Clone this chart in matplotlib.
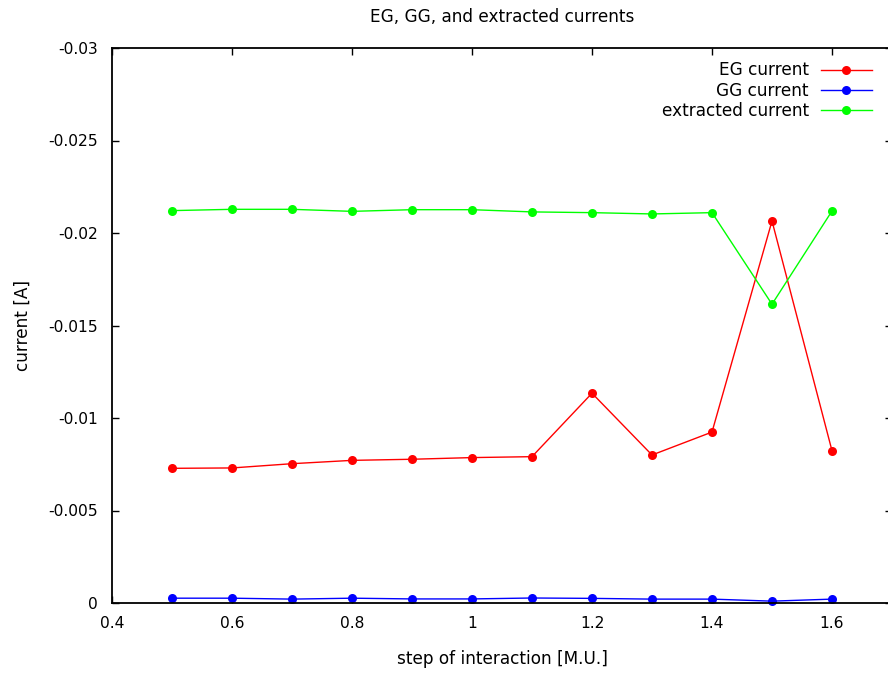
import matplotlib
matplotlib.use("Agg")
import matplotlib.pyplot as plt
from matplotlib import ticker

# step of interaction [M.U.]
steps = [0.5, 0.6, 0.7, 0.8, 0.9, 1.0, 1.1, 1.2, 1.3, 1.4, 1.5, 1.6]

# currents [A]
eg_current = [-0.00728, -0.00730, -0.00753, -0.00771, -0.00777, -0.00786,
              -0.00791, -0.01134, -0.00800, -0.00924, -0.02065, -0.00823]
gg_current = [-0.00026, -0.00026, -0.00021, -0.00026, -0.00022, -0.00022,
              -0.00027, -0.00025, -0.00021, -0.00021, -0.00010, -0.00021]
extracted_current = [-0.02121, -0.02128, -0.02128, -0.02117, -0.02126, -0.02126,
                     -0.02114, -0.02110, -0.02103, -0.02110, -0.01615, -0.02119]

x_ticks = [0.4, 0.6, 0.8, 1.0, 1.2, 1.4, 1.6]
y_ticks = [0, -0.005, -0.01, -0.015, -0.02, -0.025, -0.03]

plt.rcParams["font.family"] = ["DejaVu Sans"]

W, H = 888, 673
fig = plt.figure(figsize=(W / 100, H / 100), dpi=100)
ax = fig.add_axes([112 / W, 1 - 603 / H, (892 - 112) / W, (603 - 48) / H])

series = [
    (eg_current, "#ff0000", "EG current"),
    (gg_current, "#0000ff", "GG current"),
    (extracted_current, "#00ff00", "extracted current"),
]
for values, color, label in series:
    ax.plot(steps, values, color=color, lw=1.0, marker="o", ms=6.5,
            markeredgewidth=0, label=label, clip_on=False)

ax.set_xlim(0.4, 1.7)
ax.set_ylim(0, -0.03)
ax.set_xticks(x_ticks)
ax.set_yticks(y_ticks)
fmt = ticker.FuncFormatter(lambda v, _: f"{v:g}")
ax.xaxis.set_major_formatter(fmt)
ax.yaxis.set_major_formatter(fmt)

ax.tick_params(direction="in", length=5, width=1, top=True, right=True,
               labelsize=11.2, colors="#000000", pad=10)
ax.tick_params(axis="x", pad=9)
for s in ax.spines.values():
    s.set_linewidth(1.3)

label_size = 12.2
ax.set_xlabel("step of interaction [M.U.]", fontsize=label_size, labelpad=14)
ax.set_ylabel("current [A]", fontsize=label_size, labelpad=12)
fig.text(502 / W, 1 - 17 / H, "EG, GG, and extracted currents",
         ha="center", va="center", fontsize=label_size)

ax.legend(loc="upper right", bbox_to_anchor=(880 / W, 1 - 53 / H),
          bbox_transform=fig.transFigure, frameon=False, markerfirst=False,
          fontsize=label_size, handlelength=3.0, labelspacing=0.12, borderpad=0,
          handletextpad=0.7)

fig.savefig("out.png", dpi=100)
